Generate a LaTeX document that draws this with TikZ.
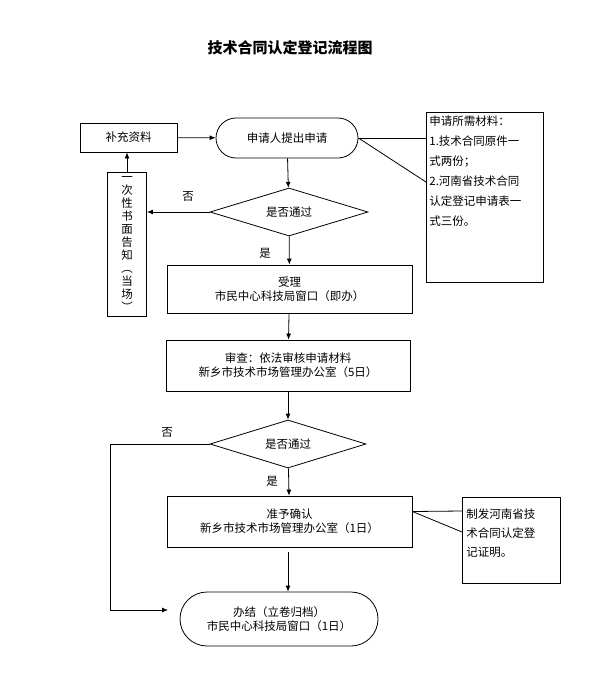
\documentclass[tikz,border=0pt]{standalone}
\usepackage{fontspec}
\setmainfont{Noto Sans CJK SC}
\usetikzlibrary{shapes.geometric,shapes.misc,arrows.meta}
\begin{document}
\begin{tikzpicture}[x=1pt,y=-1pt,font=\fontsize{11.5}{14}\selectfont,
  box/.style={draw,thick,align=center,inner sep=0},
  pill/.style={draw,thick,rounded rectangle,align=center,inner sep=0},
  dia/.style={draw,thick,diamond,aspect=3.3,inner sep=0,align=center},
  ar/.style={thick,-{Latex[length=6pt,width=5pt]}},
  ln/.style={thick}]
\useasboundingbox (0,0) rectangle (602,691);
\node[font=\fontsize{15}{18}\selectfont\bfseries] (title) at (290,48) {技术合同认定登记流程图};
\node[box,minimum width=97,minimum height=29] (bc) at (128.5,137.5) {补充资料};
\node[pill,minimum width=142,minimum height=40] (sq) at (287,138) {申请人提出申请};
\node[box,minimum width=117,minimum height=170,align=left,anchor=north west,text width=111,inner sep=3,font=\fontsize{11.5}{20}\selectfont] (cl) at (426,112) {\rule{0pt}{8pt}申请所需材料：\\1.技术合同原件一\\式两份；\\2.河南省技术合同\\认定登记申请表一\\式三份。\vspace{52pt}};
\node[dia,minimum width=158,minimum height=48] (d1) at (289,212) {是否通过};
\node[box,minimum width=39,minimum height=144,font=\fontsize{11.5}{13}\selectfont] (vt) at (127,244) {一\\次\\性\\书\\面\\告\\知\\︵\\当\\场\\︶};
\node[box,minimum width=245,minimum height=48] (sl) at (289.5,289) {受理\\市民中心科技局窗口（即办）};
\node[box,minimum width=244,minimum height=51] (sc) at (288,365.5) {审查：依法审核申请材料\\新乡市技术市场管理办公室（5日）};
\node[dia,minimum width=156,minimum height=48] (d2) at (288,444) {是否通过};
\node[box,minimum width=245,minimum height=51] (zy) at (289.5,521.5) {准予确认\\新乡市技术市场管理办公室（1日）};
\node[box,minimum width=98,minimum height=86,text width=90,align=left,anchor=north west,inner sep=4,font=\fontsize{11.5}{19}\selectfont] (zs) at (462,497) {\rule{0pt}{10pt}制发河南省技\\术合同认定登\\记证明。\vspace{14pt}};
\node[pill,minimum width=198,minimum height=54] (bj) at (279,619) {办结（立卷归档）\\市民中心科技局窗口（1日）};
\node (n1) at (188,196) {否};
\node (y1) at (265,253) {是};
\node (n2) at (167,432) {否};
\node (y2) at (272,481) {是};
\coordinate (c1) at (110,444);
\coordinate (c2) at (110,610);
\coordinate (c3) at (168,610);
\coordinate (c4) at (288,552);
\draw[ar] (bc) -- (sq);
\draw[ln] (sq.east) -- (cl.west |- sq.east);
\draw[ln] (sq.east) -- ([yshift=-70]cl.north west);
\draw[ar] (sq) -- (d1);
\draw[ar] (d1) -- (vt.east |- d1.west);
\draw[ar] (vt) -- (bc.south -| vt.north);
\draw[ar] (d1) -- (sl);
\draw[ar] (sl) -- (sc);
\draw[ar] (sc) -- (d2);
\draw[ar] (d2) -- (zy);
\draw[ln] (d2.west) -- (c1) -- (c2);
\draw[ar] (c2) -- (c3);
\draw[ln] ([yshift=10]zy.east) -- ([yshift=-14]zs.north west);
\draw[ln] ([yshift=10]zy.east) -- ([yshift=-35]zs.north west);
\draw[ar] (c4) -- (c4 |- bj.north);
\end{tikzpicture}
\end{document}
